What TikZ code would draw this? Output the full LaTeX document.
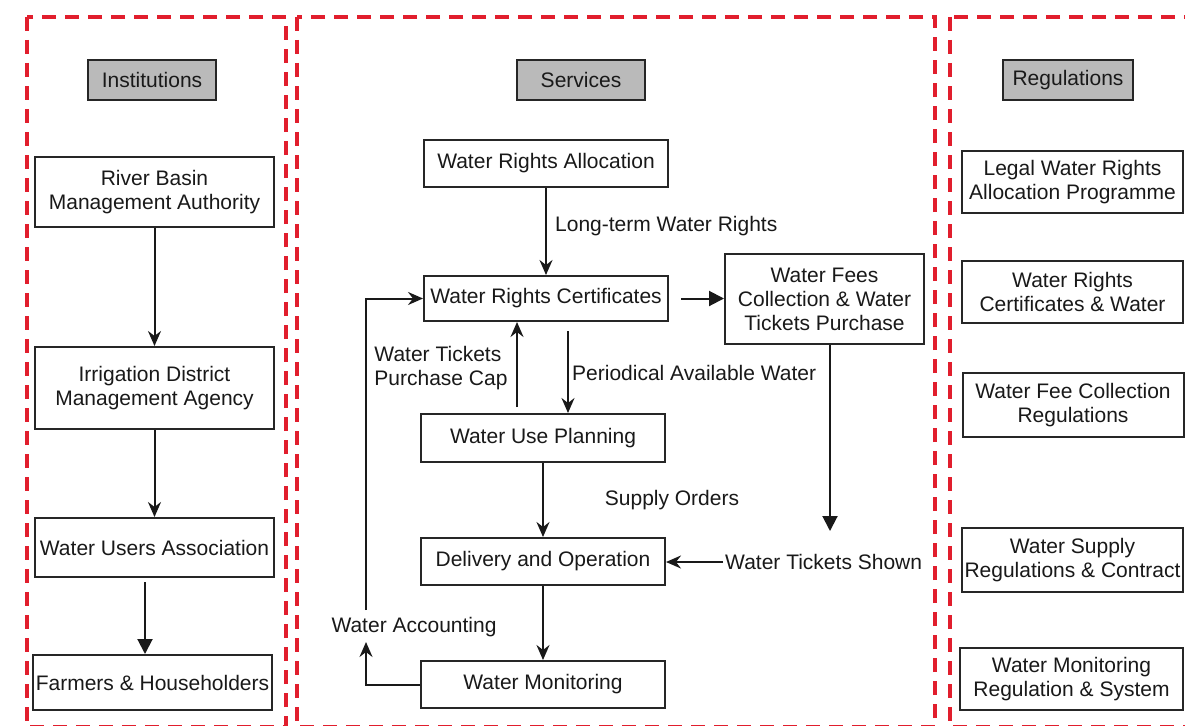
\documentclass[tikz,border=0pt]{standalone}
\usepackage{fontspec}
\setmainfont{Liberation Sans}
\usetikzlibrary{arrows.meta,calc}
\definecolor{frred}{RGB}{225,30,45}
\begin{document}
\begin{tikzpicture}[x=1pt,y=-1pt,
  txt/.style={font=\fontsize{21}{24}\selectfont, text=black!90},
  box/.style={txt, draw=black!85, line width=2pt, align=center, inner sep=0pt},
  hdr/.style={box, fill=black!27, minimum width=128pt, minimum height=40pt},
  frame/.style={draw=frred, line width=3.5pt, dash pattern=on 14pt off 9pt},
  arr/.style={line width=2pt, draw=black!90, -{Stealth[length=15pt,width=13pt,inset=5pt]}},
  farr/.style={line width=2pt, draw=black!90, -{Triangle[length=15pt,width=15pt]}},
  lbl/.style={txt, inner sep=0pt, align=left}
]
\clip (0,0) rectangle (1185,725);
\fill[white] (0,0) rectangle (1185,725);
% frames
\draw[frame] (27,17) rectangle (286,727);
\draw[frame] (297,17) rectangle (935,727);
\draw[frame] (950,17) rectangle (1215,727);

% Institutions
\node[hdr] (inst) at (152,80) {Institutions};
\node[box, minimum width=239pt, minimum height=70pt] (rb) at (154.5,192) {River Basin\\Management Authority};
\node[box, minimum width=239pt, minimum height=82pt] (idma) at (154.5,388) {Irrigation District\\Management Agency};
\node[box, minimum width=239pt, minimum height=59pt] (wua) at (154.5,547.5) {Water Users Association};
\node[box, minimum width=239pt, minimum height=55pt] (farm) at (152.5,682.5) {Farmers \& Householders};
\draw[arr] (rb.south) -- (idma.north);
\draw[arr] (idma.south) -- (wua.north);
\draw[farr] ([shift={(-9.5,4)}]wua.south) coordinate (wf) -- (wf |- farm.north);

% Services
\node[hdr] (serv) at (581,80) {Services};
\node[box, minimum width=244pt, minimum height=47pt] (alloc) at (546,163.5) {Water Rights Allocation};
\node[box, minimum width=244pt, minimum height=45pt] (cert) at (546,298.5) {Water Rights Certificates};
\node[box, minimum width=199pt, minimum height=90pt] (fees) at (824.5,299) {Water Fees\\Collection \& Water\\Tickets Purchase};
\node[box, minimum width=244pt, minimum height=48pt] (wup) at (543,438) {Water Use Planning};
\node[box, minimum width=244pt, minimum height=47pt] (del) at (543,561.5) {Delivery and Operation};
\node[box, minimum width=244pt, minimum height=47pt] (mon) at (543,684.5) {Water Monitoring};

\node[lbl, anchor=west] (ltwr) at (555,226) {Long-term Water Rights};
\node[lbl] (cap) at (441,368) {Water Tickets\\Purchase Cap};
\node[lbl, anchor=west] (paw) at (572,373) {Periodical Available Water};
\node[lbl] (so) at (672,500) {Supply Orders};
\node[lbl, anchor=west] (shown) at (725,562) {Water Tickets Shown};
\node[lbl] (acct) at (414,627) {Water Accounting};

\draw[arr] (alloc.south) -- (cert.north);
\draw[farr] ([xshift=12]cert.east) -- (fees.west |- cert.east);
\draw[arr] ([shift={(22,9)}]cert.south) coordinate (p) -- (p |- wup.north);
\draw[arr] ([shift={(-26,-6)}]wup.north) coordinate (q) -- (q |- cert.south);
\draw[arr] (wup.south) -- (del.north);
\draw[arr] (del.south) -- (mon.north);
\draw[farr] ([xshift=5.5]fees.south) -- ++(0,186) coordinate (fe);
\draw[arr] ([xshift=-2]shown.west) -- (del.east |- shown.west);
\coordinate (acctip) at (366,642);
\coordinate (accstart) at (366,610);
\draw[arr] (mon.west) -| (acctip);
\draw[arr] (accstart) |- (cert.west);

% Regulations
\node[hdr, minimum width=130pt] (reg) at (1068,80) {Regulations};
\node[box, minimum width=221pt, minimum height=62pt] (r1) at (1072.5,182) {Legal Water Rights\\Allocation Programme};
\node[box, minimum width=221pt, minimum height=62pt] (r2) at (1072.5,292) {Water Rights\\Certificates \& Water};
\node[box, minimum width=221pt, minimum height=64pt] (r3) at (1073,405) {Water Fee Collection\\Regulations};
\node[box, minimum width=221pt, minimum height=64pt] (r4) at (1072.5,560) {Water Supply\\Regulations \& Contract};
\node[box, minimum width=223pt, minimum height=62pt] (r5) at (1071.5,679) {Water Monitoring\\Regulation \& System};
\end{tikzpicture}
\end{document}
